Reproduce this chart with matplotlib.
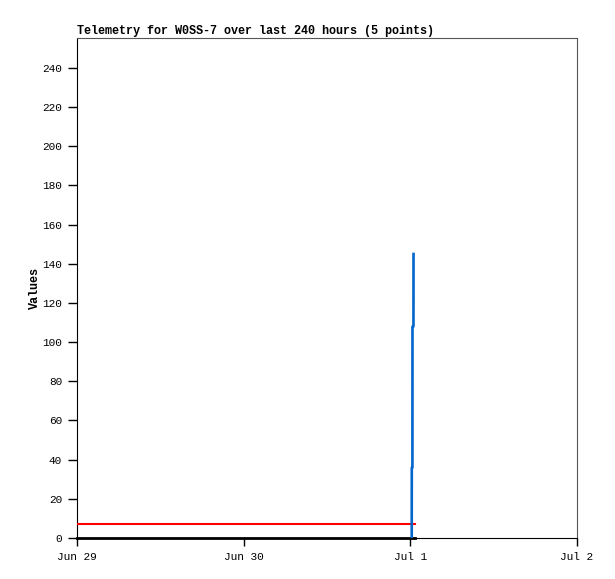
import matplotlib
matplotlib.use('Agg')
import matplotlib.pyplot as plt
from datetime import datetime, timedelta

plt.rcParams['font.family'] = ['Liberation Mono', 'DejaVu Sans Mono']

# telemetry points (hours after Jul 1 00:00)
t0 = datetime(2024, 7, 1)
blue_hours = [0.20, 0.21, 0.30, 0.31, 0.45, 0.46]
blue_vals = [0, 36, 36, 108, 108, 145]

red_start = datetime(2024, 6, 29)
red_end_hours = 0.65
red_val = 7

black_val = 0

xticks = [datetime(2024, 6, 29), datetime(2024, 6, 30), datetime(2024, 7, 1), datetime(2024, 7, 2)]
xticklabels = ['Jun 29', 'Jun 30', 'Jul 1', 'Jul 2']
yticks = list(range(0, 241, 20))

fig = plt.figure(figsize=(6.15, 5.79), dpi=100)
ax = fig.add_axes([77 / 615, 41 / 579, 500 / 615, 500 / 579])

blue_t = [t0 + timedelta(hours=h) for h in blue_hours]
red_t = [red_start, t0 + timedelta(hours=red_end_hours)]

ax.plot(red_t, [red_val, red_val], color='#ff0000', linewidth=1.5, zorder=3)
ax.plot(red_t, [black_val, black_val], color='black', linewidth=2.0, zorder=4, clip_on=False)
ax.plot(blue_t, blue_vals, color='#0066cc', linewidth=1.9, zorder=5)

ax.set_xlim(xticks[0], xticks[-1])
ax.set_ylim(0, 255.3)
ax.set_xticks(xticks)
ax.set_xticklabels(xticklabels)
ax.set_yticks(yticks)
ax.tick_params(axis='y', direction='out', length=6.5, width=1, labelsize=8, pad=4.3)
ax.tick_params(axis='x', direction='out', length=5.5, width=1, labelsize=8, pad=4.5)

for s in ['top', 'right']:
    ax.spines[s].set_color('#555555')
ax.spines['left'].set_color('black')
ax.spines['bottom'].set_color('black')

ax.set_ylabel('Values', fontsize=8.5, fontweight='bold', labelpad=1)
ax.set_title('Telemetry for W0SS-7 over last 240 hours (5 points)',
             fontsize=8.5, fontweight='bold', loc='left', pad=3)

fig.savefig('out.png', dpi=100)
